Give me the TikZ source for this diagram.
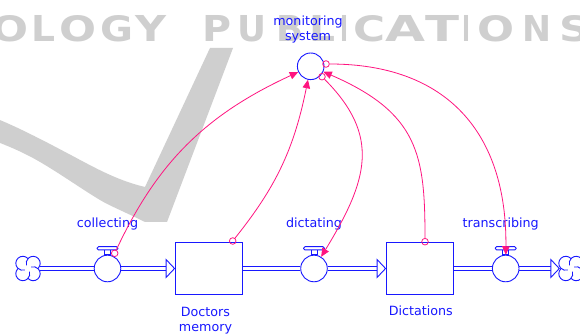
\documentclass[tikz,border=0pt]{standalone}
\usepackage{fontspec}
\usepackage{graphicx}
\setmainfont{DejaVu Sans}
\usetikzlibrary{arrows.meta,calc,backgrounds}
\definecolor{flowblue}{RGB}{24,24,255}
\definecolor{linkpink}{RGB}{255,20,128}
\definecolor{markgray}{RGB}{207,207,207}

\tikzset{
  cloudpic/.pic={
    \foreach \k in {0,1,2,3} {
      \pgfmathsetmacro\cx{7.35*cos(45-90*\k)}
      \pgfmathsetmacro\cy{7.35*sin(45-90*\k)}
      \pgfmathsetmacro\sa{137.9-90*\k}
      \pgfmathsetmacro\ea{-107.9-90*\k}
      \draw[flowblue,line width=0.9pt]
        ({\cx+7*cos(\sa)},{\cy+7*sin(\sa)}) arc[start angle=\sa,end angle=\ea,radius=7];
    }
  }
}

\begin{document}
\begin{tikzpicture}[x=1pt,y=-1pt,
  lbl/.style={text=flowblue,font=\fontsize{12.7}{15.5}\selectfont,inner sep=0pt,anchor=base,align=center},
  stock/.style={draw=flowblue,line width=0.9pt,fill=white,minimum width=67.3pt,minimum height=52pt,inner sep=0pt},
  valve/.style={circle,draw=flowblue,line width=0.9pt,fill=white,minimum size=26.6pt,inner sep=0pt},
  conv/.style={circle,draw=flowblue,line width=0.9pt,minimum size=26.6pt,inner sep=0pt},
  sink/.style={circle,minimum size=23pt,inner sep=0pt},
  pipe/.style={draw=flowblue,line width=1pt,double=white,double distance=3.7pt},
  flowhead/.style={draw=flowblue,line width=0.9pt,fill=white,line join=miter},
  handle/.style={draw=flowblue,line width=0.9pt,fill=white},
  tap/.style={circle,draw=linkpink,line width=0.8pt,minimum size=6.6pt,inner sep=0pt},
  link/.style={draw=linkpink,line width=0.8pt,-{Triangle[length=8.5pt,width=7.5pt]}},
]
\useasboundingbox (0,0) rectangle (580,336);
\clip (0,0) rectangle (580,336);

% stocks, flows and the converter
\node[sink] (cloudL) at (28,268.5) {};
\pic at (cloudL) {cloudpic};
\node[valve] (valve1) at (107.5,268.5) {};
\node[stock] (box1) at (208.65,268.5) {};
\node[valve] (valve2) at (314,268.5) {};
\node[stock] (box2) at (419.65,268.5) {};
\node[valve] (valve3) at (505.7,268.5) {};
\node[sink] (cloudR) at (571,268.5) {};
\pic at (cloudR) {cloudpic};
\node[conv] (mon) at (310.7,66.3) {};

\coordinate (in1) at ($(box1.west)+(-8.5,0)$);
\coordinate (in2) at ($(box2.west)+(-8.5,0)$);
\coordinate (in3) at ($(cloudR.west)+(-8.5,0)$);

\begin{scope}[on background layer]
  \fill[white] (0,0) rectangle (580,336);
  % publisher watermark
  \fill[markgray] (210,48) -- (233,48) -- (167,222) -- (145,222)
    .. controls (125,212) and (110,206) .. (100,200)
    .. controls (80,188) and (55,170) .. (33,158)
    .. controls (20,151) and (8,146) .. (-5,141) -- (-5,118)
    .. controls (20,128) and (50,144) .. (67,153)
    .. controls (90,165) and (115,180) .. (145,187) -- cycle;
  \foreach \ch/\a/\b [count=\i] in {O/-9/28,L/31/55,O/59/96,G/100/133,Y/135/166,
      P/202/231,U/237/266,B/276/303,L/309/335,I/340/348,C/353/385,A/385/425,
      T/425/459,I/462/470,O/477/514,N/522/551,S/559/590} {
    \pgfmathsetmacro\w{\b-\a}
    \node[anchor=south west,inner sep=0pt,text=markgray] (wm\i) at (\a,42)
      {\resizebox{\w pt}{26pt}{\bfseries\ch}};
  }
  % flow pipes
  \draw[pipe] (cloudL) -- (valve1);
  \draw[pipe] (valve1) -- (in1);
  \draw[pipe] (box1) -- (valve2);
  \draw[pipe] (valve2) -- (in2);
  \draw[pipe] (box2) -- (valve3);
  \draw[pipe] (valve3) -- (in3);
\end{scope}

\draw[flowhead] ($(in1)+(0,-9)$) -- (box1.west) -- ($(in1)+(0,9)$) -- cycle;
\draw[flowhead] ($(in2)+(0,-9)$) -- (box2.west) -- ($(in2)+(0,9)$) -- cycle;
\draw[flowhead] ($(in3)+(0,-9)$) -- (cloudR.west) -- ($(in3)+(0,9)$) -- cycle;

% valve handles
\foreach \v in {valve1,valve2,valve3} {
  \draw[handle] ($(\v.north)+(-3,0)$) rectangle ($(\v.north)+(3,-4.8)$);
  \draw[handle,rounded corners=1.5pt] ($(\v.north)+(-10.5,-4.8)$) rectangle ($(\v.north)+(10.5,-8.1)$);
}

% labels
\node[lbl] (tmon) at (308,41) {monitoring\\system};
\node[lbl] (tcol) at (107.5,228) {collecting};
\node[lbl] (tdic) at (314,228) {dictating};
\node[lbl] (ttra) at (500.7,228) {transcribing};
\node[lbl] (tdoc) at (205.5,331.5) {Doctors\\memory};
\node[lbl] (tdin) at (420.8,315) {Dictations};

% information links
\node[tap] (tapColl) at (114.7,253.3) {};
\node[tap] (tapDoc) at (232.7,241) {};
\node[tap] (tapDict) at (425,241.7) {};
\node[tap] (tapMonA) at (322,76.7) {};
\node[tap] (tapMonB) at (326,64) {};

\draw[link] (tapColl) .. controls (157,163) and (205,115) .. (mon);
\draw[link] (tapDoc) .. controls (276,187) and (294,149) .. (mon);
\draw[link] (tapDict) .. controls (425,155) and (418.6,113) .. (mon);
\draw[link] (tapMonA) .. controls (381,136) and (368,180) .. (valve2);
\draw[link] (tapMonB) .. controls (446,64) and (507,132) .. (valve3);
\end{tikzpicture}
\end{document}
